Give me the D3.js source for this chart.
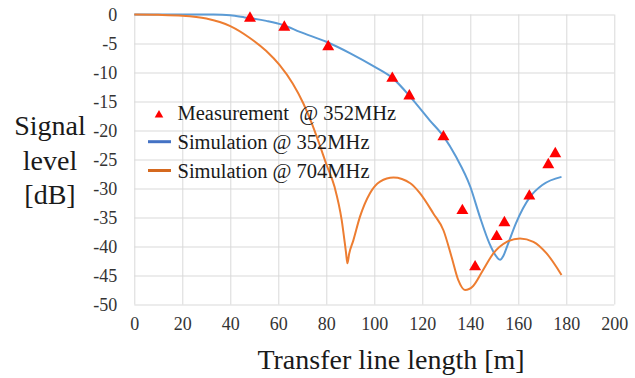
<!DOCTYPE html>
<html><head><meta charset="utf-8">
<script src="https://cdn.jsdelivr.net/npm/d3@7"></script>
<style>
body{margin:0;background:#fff}
svg{display:block}
text{font-family:"Liberation Serif","Times New Roman",serif}
</style>
</head><body>
<svg id="chart" width="635" height="378"></svg>
<script>
// Axis ticks
const xTicks = [0, 20, 40, 60, 80, 100, 120, 140, 160, 180, 200];
const yTicks = [0, -5, -10, -15, -20, -25, -30, -35, -40, -45, -50];

// Measured signal level @ 352 MHz
const measX = [48.2, 62.5, 80.8, 107.5, 114.6, 128.8, 136.7, 142, 151, 154.2, 164.6, 172.5, 175.4];
const measY = [-0.65, -2.2, -5.55, -11, -14.05, -21.1, -33.8, -43.5, -38.3, -35.9, -31.3, -25.9, -24];

// Simulation @ 352 MHz
const sim352X = [0, 20, 33, 40, 46, 55, 62, 69, 80, 90, 100, 108, 115, 123, 129, 134, 140, 144, 148, 151, 152.4, 153.8, 155.5, 159, 165, 170, 178];
const sim352Y = [0, 0, -0.02, -0.15, -0.5, -1.1, -1.8, -3, -4.7, -6.7, -9.0, -11.1, -14.2, -18.2, -21.1, -24.5, -29.7, -34.9, -39.5, -41.8, -42.3, -41.6, -39.8, -36, -31.4, -29.4, -28];

// Simulation @ 704 MHz
const sim704X = [0, 10, 20, 30, 40, 48, 55, 60.5, 66, 70.4, 74, 77, 80, 83.5, 86.4, 88.2, 88.8, 89.5, 91.3, 94, 98.2, 102.4, 108, 115, 119, 124.6, 128.8, 132.2, 135, 137.8, 141.2, 145.4, 149.6, 155.2, 160.7, 166.3, 171.8, 178];
const sim704Y = [0, -0.05, -0.2, -0.7, -2.0, -4.0, -6.3, -8.7, -11.9, -15.3, -18.8, -22.2, -25.8, -29.8, -35.4, -41, -42.9, -41.3, -38.9, -34.9, -30.8, -28.8, -28.1, -29.1, -30.8, -34.3, -37.2, -41.8, -45.8, -47.5, -46.8, -44, -41.2, -39.2, -38.6, -39.2, -41.2, -44.9];

// Legend entries
const legendLabels = ["Measurement  @ 352MHz", "Simulation @ 352MHz", "Simulation @ 704MHz"];

const serif = '"Liberation Serif", "Times New Roman", serif';
const svg = d3.select("#chart");
const x = d3.scaleLinear().domain([0, 200]).range([134.3, 614.3]);
const y = d3.scaleLinear().domain([-50, 0]).range([304.5, 14.5]);
const plotW = x(200) - x(0), plotH = y(-50) - y(0);

// Grid + tick labels
const gx = svg.append("g").attr("transform", `translate(0,${y(-50)})`)
  .call(d3.axisBottom(x).tickValues(xTicks).tickSize(-plotH).tickPadding(13).tickFormat(d3.format("d")));
const gy = svg.append("g").attr("transform", `translate(${x(0)},0)`)
  .call(d3.axisLeft(y).tickValues(yTicks).tickSize(-plotW).tickPadding(17).tickFormat(d => d === 0 ? "0" : String(d)));
[gx, gy].forEach(g => {
  g.attr("font-family", serif).attr("font-size", 18);
  g.select(".domain").remove();
  g.selectAll(".tick line").attr("stroke", "#d9d9d9").attr("stroke-width", 1);
  g.selectAll(".tick text").attr("fill", "#333")
    .attr("font-family", serif).attr("font-size", 18)
    .style("font-family", serif).style("font-size", "18px");
});

// Curves
const line = d3.line().x(d => x(d[0])).y(d => y(d[1])).curve(d3.curveMonotoneX);
svg.append("path").datum(sim352X.map((v, i) => [v, sim352Y[i]]))
  .attr("d", line).attr("fill", "none").attr("stroke", "#5b9bd5").attr("stroke-width", 2);
svg.append("path").datum(sim704X.map((v, i) => [v, sim704Y[i]]))
  .attr("d", line).attr("fill", "none").attr("stroke", "#ed7d31").attr("stroke-width", 2);

// Measurement markers
const tri = d3.symbol().type(d3.symbolTriangle).size(62);
svg.append("g").selectAll("path").data(measX.map((v, i) => [v, measY[i]])).join("path")
  .attr("d", tri).attr("fill", "#ff0000")
  .attr("transform", d => `translate(${x(d[0])},${y(d[1])})`);

// Legend
const lg = svg.append("g");
lg.append("path").attr("d", d3.symbol().type(d3.symbolTriangle).size(32)())
  .attr("fill", "#ff0000").attr("transform", "translate(159,115)");
lg.append("line").attr("x1", 148).attr("x2", 171).attr("y1", 141.7).attr("y2", 141.7)
  .attr("stroke", "#4472c4").attr("stroke-width", 3);
lg.append("line").attr("x1", 148).attr("x2", 171).attr("y1", 170.5).attr("y2", 170.5)
  .attr("stroke", "#d5691f").attr("stroke-width", 3);
[119.8, 148.6, 177.6].forEach((by, i) => {
  lg.append("text").attr("x", 177.5).attr("y", by).text(legendLabels[i])
    .style("font-size", "20.5px").style("white-space", "pre").attr("fill", "#1a1a1a");
});

// Axis titles
svg.append("text").attr("x", 391).attr("y", 368.5).attr("text-anchor", "middle")
  .style("font-size", "28px").attr("fill", "#1a1a1a").text("Transfer line length [m]");
const yt = svg.append("text").attr("text-anchor", "middle").style("font-size", "28px").attr("fill", "#1a1a1a");
[["Signal", 135], ["level", 169.5], ["[dB]", 204]].forEach(([t, by]) => {
  yt.append("tspan").attr("x", 50).attr("y", by).text(t);
});
</script>
</body></html>
